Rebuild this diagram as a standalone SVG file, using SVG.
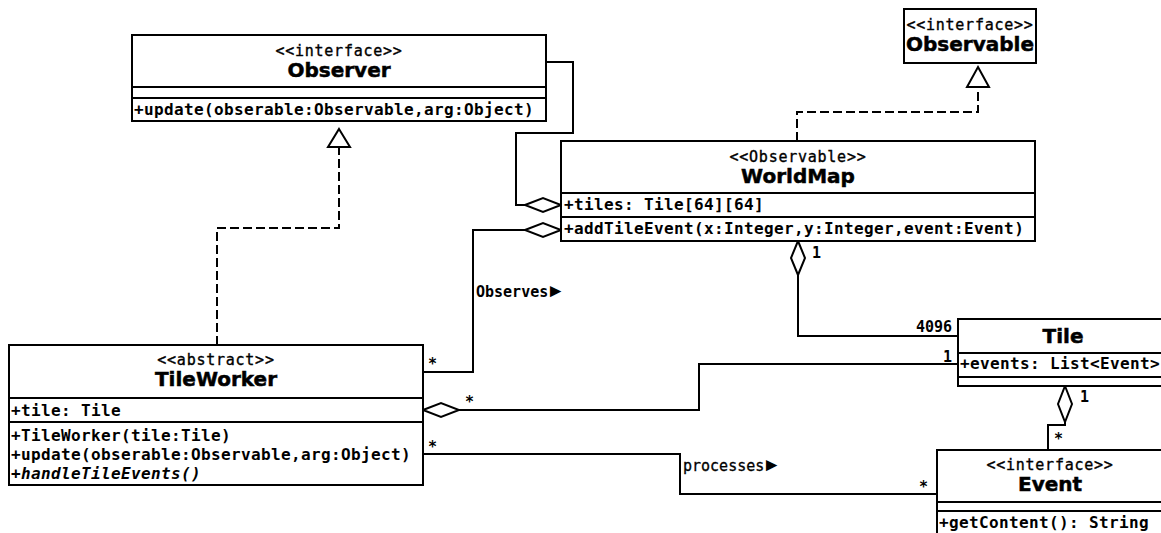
<svg xmlns="http://www.w3.org/2000/svg" width="1161" height="533" viewBox="0 0 1161 533">
  <style>
    .box { fill: #fff; stroke: #000; stroke-width: 2; }
    .sep { stroke: #000; stroke-width: 2; }
    .st { font-family: "DejaVu Sans Mono", monospace; font-size: 15px; letter-spacing: 0.75px; text-anchor: middle; stroke: #000; stroke-width: 0.35px; }
    .ti { font-family: "DejaVu Sans", sans-serif; font-weight: bold; font-size: 20px; text-anchor: middle; stroke: #000; stroke-width: 0.5px; }
    .m { font-family: "DejaVu Sans Mono", monospace; font-weight: bold; font-size: 16px; letter-spacing: 0.37px; }
    .ab { font-style: italic; }
    .line { fill: none; stroke: #000; stroke-width: 2; }
    .dash { fill: none; stroke: #000; stroke-width: 2; stroke-dasharray: 9 4; }
    .head { fill: #fff; stroke: #000; stroke-width: 2; }
    .lbl { font-family: "DejaVu Sans Mono", monospace; font-weight: bold; font-size: 15px; }
    .lbl2 { font-family: "DejaVu Sans Mono", monospace; font-size: 15px; stroke: #000; stroke-width: 0.3px; }
    .dir { font-family: "Liberation Sans", sans-serif; font-size: 19px; stroke: none; }
  </style>

  <!-- connectors -->
  <g id="connectors">
    <!-- TileWorker realizes Observer -->
    <path class="dash" d="M217,345 V228 H339 V147"/>
    <polygon class="head" points="339,129 350,147 328,147"/>
    <!-- WorldMap realizes Observable -->
    <path class="dash" d="M797,141 V112 H978 V87"/>
    <polygon class="head" points="978,67 989,87 967,87"/>
    <!-- WorldMap holds Observers -->
    <path class="line" d="M546,62 H573 V133 H516 V205 H525"/>
    <polygon class="head" points="525,205 543,198 561,205 543,212"/>
    <!-- TileWorker observes WorldMap -->
    <path class="line" d="M423,372 H473 V230 H525"/>
    <polygon class="head" points="525,230 543,223 561,230 543,237"/>
    <!-- WorldMap to Tile -->
    <polygon class="head" points="798,241 805,258 798,275 791,258"/>
    <path class="line" d="M798,275 V336 H958"/>
    <!-- TileWorker to Tile -->
    <polygon class="head" points="423,410 441,403 459,410 441,417"/>
    <path class="line" d="M459,410 H699 V364 H958"/>
    <!-- Tile to Event -->
    <polygon class="head" points="1065,386 1072,404 1065,422 1058,404"/>
    <path class="line" d="M1065,422 V425 H1048 V450"/>
    <!-- TileWorker processes Event -->
    <path class="line" d="M423,454 H680 V494 H937"/>

    <!-- multiplicities and labels -->
    <text class="lbl" x="428" y="369">*</text>
    <text class="lbl" x="465" y="407">*</text>
    <text class="lbl" x="428" y="452">*</text>
    <text class="lbl" x="919" y="492">*</text>
    <text class="lbl" x="1054" y="444">*</text>
    <text class="lbl" x="812" y="258">1</text>
    <text class="lbl" x="952" y="332" text-anchor="end">4096</text>
    <text class="lbl" x="943" y="362">1</text>
    <text class="lbl" x="1080" y="402">1</text>
    <text class="lbl" x="476" y="297">Observes<tspan class="dir" dx="-2">►</tspan></text>
    <text class="lbl2" x="683" y="471">processes<tspan class="dir" dx="-2">►</tspan></text>
  </g>

  <!-- Observer interface -->
  <g id="observer">
    <rect class="box" x="132" y="35" width="414" height="86"/>
    <line class="sep" x1="132" y1="87" x2="546" y2="87"/>
    <line class="sep" x1="132" y1="98" x2="546" y2="98"/>
    <text class="st" x="339" y="56">&lt;&lt;interface&gt;&gt;</text>
    <text class="ti" x="339" y="77">Observer</text>
    <text class="m" x="134" y="115">+update(obserable:Observable,arg:Object)</text>
  </g>

  <!-- Observable interface -->
  <g id="observable">
    <rect class="box" x="904" y="9" width="132" height="54"/>
    <text class="st" x="970" y="30">&lt;&lt;interface&gt;&gt;</text>
    <text class="ti" x="970" y="51">Observable</text>
  </g>

  <!-- WorldMap -->
  <g id="worldmap">
    <rect class="box" x="561" y="141" width="474" height="100"/>
    <line class="sep" x1="561" y1="193" x2="1035" y2="193"/>
    <line class="sep" x1="561" y1="217" x2="1035" y2="217"/>
    <text class="st" x="798" y="162">&lt;&lt;Observable&gt;&gt;</text>
    <text class="ti" x="798" y="183">WorldMap</text>
    <text class="m" x="564" y="210">+tiles: Tile[64][64]</text>
    <text class="m" x="564" y="234">+addTileEvent(x:Integer,y:Integer,event:Event)</text>
  </g>

  <!-- TileWorker -->
  <g id="tileworker">
    <rect class="box" x="9" y="345" width="414" height="140"/>
    <line class="sep" x1="9" y1="398" x2="423" y2="398"/>
    <line class="sep" x1="9" y1="422" x2="423" y2="422"/>
    <text class="st" x="216" y="365">&lt;&lt;abstract&gt;&gt;</text>
    <text class="ti" x="216" y="386">TileWorker</text>
    <text class="m" x="11" y="416">+tile: Tile</text>
    <text class="m" x="11" y="441">+TileWorker(tile:Tile)</text>
    <text class="m" x="11" y="460">+update(obserable:Observable,arg:Object)</text>
    <text class="m ab" x="11" y="479">+handleTileEvents()</text>
  </g>

  <!-- Tile -->
  <g id="tile">
    <rect class="box" x="958" y="319" width="210" height="67"/>
    <line class="sep" x1="958" y1="353" x2="1168" y2="353"/>
    <line class="sep" x1="958" y1="377" x2="1168" y2="377"/>
    <text class="ti" x="1063" y="343">Tile</text>
    <text class="m" x="960" y="369">+events: List&lt;Event&gt;</text>
  </g>

  <!-- Event interface -->
  <g id="event">
    <rect class="box" x="937" y="450" width="226" height="90"/>
    <line class="sep" x1="937" y1="502" x2="1163" y2="502"/>
    <line class="sep" x1="937" y1="511" x2="1163" y2="511"/>
    <text class="st" x="1050" y="470">&lt;&lt;interface&gt;&gt;</text>
    <text class="ti" x="1050" y="491">Event</text>
    <text class="m" x="939" y="528">+getContent(): String</text>
  </g>
</svg>
